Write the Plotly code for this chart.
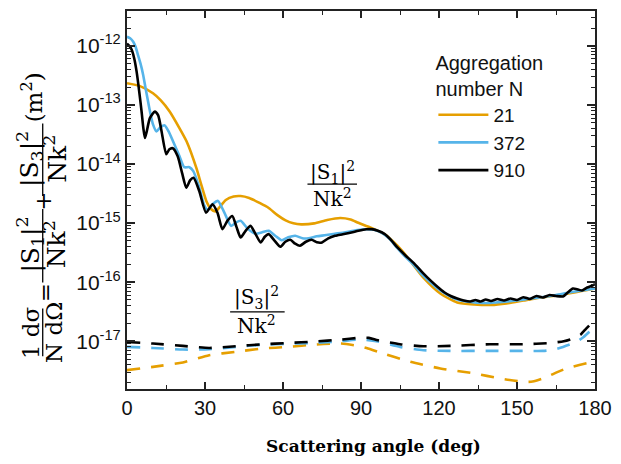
import plotly.graph_objects as go

# ---- |S1|^2 / Nk^2 (solid) ----
angle_21 = [0, 5, 10, 13, 16.4, 20, 22.9, 26.7, 28.5, 30.5, 32.3, 34, 36, 38, 41, 43.7, 47, 51,
            54.5, 58, 61, 64, 67, 72, 77, 82, 86, 89, 94, 99, 104, 108, 114, 120.5, 127, 133.5,
            140, 146, 152.5, 158, 165, 172, 180]
s1_21 = [2.32e-13, 2.08e-13, 1.57e-13, 1.19e-13, 7.74e-14, 4.17e-14, 2.42e-14, 8.49e-15, 4.57e-15,
         2.37e-15, 1.73e-15, 1.57e-15, 1.95e-15, 2.46e-15, 2.82e-15, 2.87e-15, 2.66e-15, 2.19e-15,
         1.80e-15, 1.35e-15, 1.11e-15, 9.89e-16, 9.51e-16, 9.89e-16, 1.13e-15, 1.22e-15, 1.15e-15,
         1.01e-15, 8.3e-16, 6.50e-16, 4.13e-16, 2.59e-16, 1.19e-16, 6.43e-17, 4.54e-17, 4.20e-17,
         4.11e-17, 4.37e-17, 4.90e-17, 5.40e-17, 5.94e-17, 6.68e-17, 7.80e-17]

angle_372 = [0, 1.2, 2.4, 3.3, 4.2, 5.2, 6.2, 7.1, 8.1, 9.0, 10, 11.3, 12.8, 14.5, 16, 17.7, 20.2,
             22, 24, 25.5, 27.5, 29.8, 31, 33, 35, 37.5, 40, 42, 43.7, 46.5, 49.5, 52, 54.5, 57,
             59.5, 62, 64.7, 67.5, 69.8, 73, 76, 80, 84, 88, 92, 95, 98, 101, 104, 107, 110.5,
             113.5, 116.8, 120, 123, 127, 132, 137, 142, 148, 154, 160, 165, 170, 175, 180]
s1_372 = [1.42e-12, 1.34e-12, 1.17e-12, 9.62e-13, 7.05e-13, 4.98e-13, 3.25e-13, 1.96e-13, 1.14e-13,
          7.16e-14, 4.68e-14, 3.56e-14, 4.17e-14, 4.50e-14, 3.56e-14, 2.42e-14, 1.35e-14, 8.83e-15,
          8.83e-15, 7.57e-15, 4.40e-15, 1.95e-15, 1.67e-15, 2.10e-15, 2.37e-15, 1.49e-15, 8.98e-16,
          1.03e-15, 1.09e-15, 7.98e-16, 6.58e-16, 6.97e-16, 7.40e-16, 6.10e-16, 5.12e-16, 5.74e-16,
          6.10e-16, 5.52e-16, 5.52e-16, 5.97e-16, 6.21e-16, 6.58e-16, 6.97e-16, 7.54e-16, 7.84e-16,
          7.69e-16, 6.84e-16, 5.42e-16, 3.75e-16, 2.70e-16, 1.91e-16, 1.34e-16, 9.84e-17, 7.50e-17,
          6.18e-17, 5.09e-17, 4.62e-17, 4.45e-17, 4.54e-17, 4.81e-17, 5.19e-17, 5.62e-17, 6.07e-17,
          6.68e-17, 7.22e-17, 7.80e-17]

angle_910 = [0, 1, 1.8, 2.8, 3.7, 4.7, 5.6, 6.3, 6.9, 7.6, 8.8, 10.7, 12.0, 13.3, 15.1, 16.3, 17.6,
             19.5, 21.2, 22.8, 24.3, 25.6, 27.8, 30.4, 32.9, 34.8, 36.7, 38.6, 40.5, 42.1, 43.7,
             45.6, 47.5, 49.4, 51.4, 53, 54.5, 56.8, 59, 60.9, 62.8, 64.7, 66.5, 68.8, 71, 73, 75,
             77.4, 80, 83, 86.3, 89, 92, 94, 96.5, 99, 101.5, 104, 107, 110.5, 113.5, 116.8, 119.5,
             122, 124.5, 127, 129.5, 132, 134, 136, 138, 140, 142.5, 145, 147.5, 150, 152.4, 155,
             157.5, 160, 162.5, 165, 167.7, 169.5, 171.5, 173.5, 175, 177, 179, 180]
s1_910 = [1.09e-12, 9.8e-13, 8.57e-13, 6.04e-13, 3.65e-13, 1.68e-13, 7.74e-14, 4.0e-14, 2.75e-14,
          3.56e-14, 5.97e-14, 7.74e-14, 6.64e-14, 3.56e-14, 1.46e-14, 1.77e-14, 1.85e-14, 1.35e-14,
          7.0e-15, 3.96e-15, 5.33e-15, 5.83e-15, 3.48e-15, 1.50e-15, 2.08e-15, 1.49e-15, 7.89e-16,
          1.09e-15, 1.32e-15, 8.63e-16, 5.70e-16, 7.40e-16, 8.98e-16, 6.58e-16, 4.70e-16, 5.86e-16,
          6.50e-16, 5.01e-16, 3.97e-16, 4.83e-16, 5.21e-16, 4.47e-16, 4.13e-16, 4.83e-16, 5.21e-16,
          4.73e-16, 4.70e-16, 5.52e-16, 6.10e-16, 6.46e-16, 6.92e-16, 7.40e-16, 7.84e-16, 7.89e-16,
          7.40e-16, 6.58e-16, 5.21e-16, 3.87e-16, 2.86e-16, 2.06e-16, 1.48e-16, 1.06e-16, 8.28e-17,
          6.76e-17, 5.83e-17, 5.29e-17, 4.90e-17, 4.71e-17, 5.0e-17, 4.71e-17, 5.09e-17, 4.81e-17,
          5.19e-17, 4.90e-17, 5.29e-17, 5.0e-17, 5.57e-17, 5.19e-17, 5.83e-17, 5.51e-17, 6.07e-17,
          5.83e-17, 5.73e-17, 6.68e-17, 7.80e-17, 7.50e-17, 7.22e-17, 8.11e-17, 8.77e-17, 9.29e-17]

# ---- |S3|^2 / Nk^2 (dashed) ----
angle_s3_21 = [0, 10, 21.5, 31.6, 41.8, 52, 62, 72.3, 82.4, 88.9, 92.7, 96.5, 109, 120.5, 133.4,
               143.5, 152.4, 156, 160, 169, 179, 180]
s3_21 = [3.25e-18, 3.69e-18, 4.38e-18, 5.81e-18, 6.61e-18, 7.53e-18, 8.02e-18, 8.79e-18, 9.14e-18,
         8.34e-18, 7.53e-18, 6.61e-18, 4.49e-18, 3.47e-18, 2.86e-18, 2.35e-18, 2.06e-18, 2.08e-18,
         2.35e-18, 3.47e-18, 4.49e-18, 4.6e-18]

angle_s3_372 = [0, 10, 21.5, 31.6, 41.8, 52, 62, 72, 82, 90, 96.5, 105, 114, 124.4, 139.6, 152.4,
                160, 164, 167.7, 172.8, 175.5, 177.8, 180]
s3_372 = [8.02e-18, 7.71e-18, 7.24e-18, 7.33e-18, 8.02e-18, 8.73e-18, 9.07e-18, 9.35e-18, 1.0e-17,
          1.07e-17, 9.9e-18, 8.02e-18, 7.05e-18, 6.87e-18, 6.87e-18, 6.87e-18, 6.87e-18, 7.2e-18,
          8.02e-18, 9.73e-18, 1.17e-17, 1.44e-17, 1.64e-17]

angle_s3_910 = [0, 10, 21.5, 31.6, 41.8, 52, 62, 72, 82.4, 89, 93, 96.5, 105, 114, 124.4, 139.6,
                152.4, 162.6, 168, 171.5, 174.5, 176.6, 179.1, 180]
s3_910 = [9.73e-18, 9.14e-18, 8.34e-18, 7.71e-18, 8.24e-18, 8.89e-18, 9.35e-18, 9.88e-18, 1.07e-17,
          1.14e-17, 1.14e-17, 1.04e-17, 8.89e-18, 8.24e-18, 8.34e-18, 8.89e-18, 8.89e-18, 9.35e-18,
          1.0e-17, 1.11e-17, 1.3e-17, 1.64e-17, 2.11e-17, 2.26e-17]

series_names = ["21", "372", "910"]
colors = ["#E69F00", "#56B4E9", "#000000"]

y_tick_exponents = [-17, -16, -15, -14, -13, -12]
x_ticks = [0, 30, 60, 90, 120, 150, 180]

# ---- figure geometry (pixels) ----
W, H = 621, 464
ML, MR, MT, MB = 127, 22, 9, 75
PW, PH = W - ML - MR, H - MT - MB


def fx(px):
    return (px - ML) / PW


def fy(py):
    return (H - MB - py) / PH


fig = go.Figure()

solid = [(angle_21, s1_21), (angle_372, s1_372), (angle_910, s1_910)]
dashed = [(angle_s3_21, s3_21), (angle_s3_372, s3_372), (angle_s3_910, s3_910)]

for (xs, ys), name, c in zip(dashed, series_names, colors):
    fig.add_trace(go.Scatter(x=xs, y=ys, mode="lines",
                             line=dict(color=c, width=2.6, dash="13px,11px", shape="spline", smoothing=0.6),
                             showlegend=False, hoverinfo="skip"))
for (xs, ys), name, c in zip(solid, series_names, colors):
    fig.add_trace(go.Scatter(x=xs, y=ys, mode="lines", name=name,
                             line=dict(color=c, width=2.6, shape="spline", smoothing=0.6)))

axis_color = "#222222"
sans = "Liberation Sans, Arial, sans-serif"
tick_font = dict(family=sans, size=20, color="#111111")

minor_y = [m * 10.0 ** e for e in range(-18, -11) for m in range(2, 10)]

fig.update_xaxes(range=[0, 180], tickvals=x_ticks, ticktext=[str(v) for v in x_ticks],
                 ticks="inside", ticklen=7, tickwidth=1.6, tickcolor=axis_color,
                 minor=dict(dtick=15, tick0=0, ticks="inside", ticklen=4, tickwidth=1.4, tickcolor=axis_color),
                 showline=True, linecolor=axis_color, linewidth=2, mirror="ticks",
                 showgrid=False, zeroline=False, tickfont=tick_font)
fig.update_yaxes(type="log", range=[-17.808, -11.411],
                 tickvals=[10.0 ** e for e in y_tick_exponents],
                 ticktext=["10<sup>%d</sup>" % e for e in y_tick_exponents],
                 ticks="inside", ticklen=8, tickwidth=1.6, tickcolor=axis_color,
                 minor=dict(tickvals=minor_y, ticks="inside", ticklen=4, tickwidth=1.2, tickcolor=axis_color),
                 showline=True, linecolor=axis_color, linewidth=2, mirror="ticks",
                 showgrid=False, zeroline=False, tickfont=dict(family=sans, size=21, color="#111111"))

serif = "DejaVu Serif, Liberation Serif, serif"
ann = []
shapes = []


def text(px, py, s, size, angle=0, family=serif, color="#000"):
    ann.append(dict(x=fx(px), y=fy(py), xref="paper", yref="paper", text=s, showarrow=False,
                    xanchor="center", yanchor="middle", textangle=angle,
                    font=dict(family=family, size=size, color=color)))


def hbar(x0, x1, py):
    shapes.append(dict(type="line", xref="paper", yref="paper", x0=fx(x0), x1=fx(x1), y0=fy(py), y1=fy(py),
                       line=dict(color="#000", width=1.3)))


def vbar(px, y0, y1):
    shapes.append(dict(type="line", xref="paper", yref="paper", x0=fx(px), x1=fx(px), y0=fy(y0), y1=fy(y1),
                       line=dict(color="#000", width=1.3)))


# y-axis title, drawn as a rotated stack of fractions
ysz = 23
text(30, 332, "1 d\u03c3", ysz, -90)
vbar(42, 308, 356)
text(54, 332, "N d\u03a9", ysz, -90)
text(44, 292, "=", ysz, -90)
text(29, 244, "|S<sub>1</sub>|<sup>2</sup>", ysz + 2, -90)
vbar(42, 208, 282)
text(55, 244, "Nk<sup>2</sup>", ysz + 2, -90)
text(42, 200, "+", ysz, -90)
text(29, 158, "|S<sub>3</sub>|<sup>2</sup>", ysz + 2, -90)
vbar(42, 122, 195)
text(55, 158, "Nk<sup>2</sup>", ysz + 2, -90)
text(31, 96, "(m<sup>2</sup>)", ysz, -90)

# in-plot labels for the two components
isz = 20
text(334, 171, "|S<sub>1</sub>|<sup>2</sup>", isz)
hbar(309, 359, 183)
text(334, 197, "Nk<sup>2</sup>", isz)
text(258, 297, "|S<sub>3</sub>|<sup>2</sup>", isz)
hbar(231, 286, 311.5)
text(258, 325, "Nk<sup>2</sup>", isz)

# x-axis title
text(376, 446, "<b>Scattering angle (deg)</b>", 17, family="DejaVu Serif, serif")

fig.update_layout(
    width=W, height=H, margin=dict(l=ML, r=MR, t=MT, b=MB, pad=0),
    paper_bgcolor="white", plot_bgcolor="white",
    annotations=ann, shapes=shapes,
    legend=dict(x=fx(436), y=fy(42), xanchor="left", yanchor="top",
                bgcolor="rgba(0,0,0,0)", borderwidth=0,
                font=dict(family=sans, size=19, color="#111"),
                title=dict(text="Aggregation<br>number N", font=dict(family=sans, size=20, color="#111")),
                tracegroupgap=0, itemwidth=50),
)

fig.write_html("out.html")
